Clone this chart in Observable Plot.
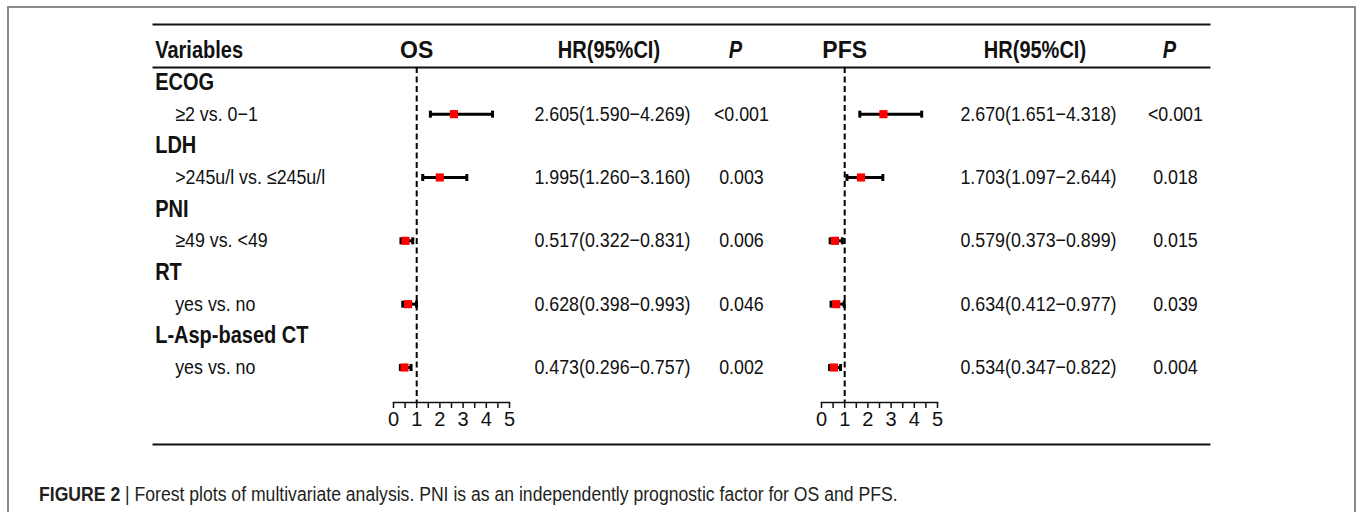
<!DOCTYPE html>
<html><head><meta charset="utf-8">
<script src="https://cdn.jsdelivr.net/npm/d3@7"></script>
<script src="https://cdn.jsdelivr.net/npm/@observablehq/plot@0.6"></script>
<style>
html,body{margin:0;padding:0;background:#fff;}
#wrap{position:relative;width:1357px;height:512px;overflow:hidden;font-family:"Liberation Sans",Arial,sans-serif;}
#border{position:absolute;left:7px;top:6px;width:1349px;height:530px;border:2px solid #8a8a8a;border-bottom:none;box-sizing:border-box;}
.panel{position:absolute;top:0;}
.panel svg{display:block;}
#caption{position:absolute;left:39px;top:481px;font-size:20px;line-height:26px;color:#231f20;white-space:nowrap;transform:scaleX(0.88);transform-origin:0 50%;}
</style></head><body>
<div id="wrap"><div id="border"></div>
<div id="caption"><b>FIGURE 2</b> | Forest plots of multivariate analysis. PNI is as an independently prognostic factor for OS and PFS.</div>
</div>
<script>
// ---- data ----
const variables = ["ECOG", "LDH", "PNI", "RT", "L-Asp-based CT"];
const comparisons = ["≥2 vs. 0−1", ">245u/l vs. ≤245u/l", "≥49 vs. <49", "yes vs. no", "yes vs. no"];
const osHR = [2.605, 1.995, 0.517, 0.628, 0.473];
const osLower = [1.590, 1.260, 0.322, 0.398, 0.296];
const osUpper = [4.269, 3.160, 0.831, 0.993, 0.757];
const osP = ["<0.001", "0.003", "0.006", "0.046", "0.002"];
const pfsHR = [2.670, 1.703, 0.579, 0.634, 0.534];
const pfsLower = [1.651, 1.097, 0.373, 0.412, 0.347];
const pfsUpper = [4.318, 2.644, 0.899, 0.977, 0.822];
const pfsP = ["<0.001", "0.018", "0.015", "0.039", "0.004"];
const headerVariables = "Variables";
const headerOS = "OS";
const headerPFS = "PFS";
const headerHR = "HR(95%CI)";
const headerP = "P";
const axisTicks = [0, 1, 2, 3, 4, 5];
const axisMinorTicks = [0, 0.5, 1, 1.5, 2, 2.5, 3, 3.5, 4, 4.5, 5];
const refHR = 1;

// ---- build tables ----
const rowIds = ["hdr"];
variables.forEach((v, i) => rowIds.push("v" + i, "c" + i));
const catRows = variables.map((v, i) => ({id: "v" + i, label: v}));
const cmpRows = comparisons.map((c, i) => ({id: "c" + i, label: c}));
function estimates(hr, lo, hi, p) {
  return hr.map((h, i) => ({id: "c" + i, hr: h, lo: lo[i], hi: hi[i], p: p[i],
    txt: `${h.toFixed(3)}(${lo[i].toFixed(3)}−${hi[i].toFixed(3)})`}));
}
const osData = estimates(osHR, osLower, osUpper, osP);
const pfsData = estimates(pfsHR, pfsLower, pfsUpper, pfsP);

const H = 450;
const SX = 0.87; // horizontal condensing of table text
const yScale = {type: "point", domain: rowIds, range: [50.3, 367], padding: 0, round: false, axis: null};
const baseStyle = {background: "transparent", fontFamily: "'Liberation Sans', Arial, sans-serif", color: "#111", overflow: "visible"};
const wrap = document.getElementById("wrap");
function place(svg, left, width, condensed, origin) {
  const d = document.createElement("div");
  d.className = "panel";
  d.style.left = left + "px";
  d.style.width = width + "px";
  if (condensed) { d.style.transform = `scaleX(${SX})`; d.style.transformOrigin = origin; }
  d.appendChild(svg);
  wrap.appendChild(d);
}
const cap = {draw(ctx, size) { const r = Math.sqrt(size / Math.PI); ctx.moveTo(0, -r); ctx.lineTo(0, r); }};

// table rules
place(Plot.plot({width: 1056, height: H, marginTop: 24, marginBottom: H - 444, marginLeft: 0, marginRight: 0, style: baseStyle,
  marks: [Plot.frame({anchor: "top", strokeWidth: 2}), Plot.frame({anchor: "bottom", strokeWidth: 2})]}), 153, 1056);
place(Plot.plot({width: 1056, height: H, marginTop: 67, marginBottom: 0, marginLeft: 0, marginRight: 0, style: baseStyle,
  marks: [Plot.frame({anchor: "top", strokeWidth: 2})]}), 153, 1056);

// variables column
place(Plot.plot({width: 300, height: H, margin: 0, y: yScale, style: baseStyle,
  marks: [
    Plot.text([headerVariables], {y: () => "hdr", text: d => d, frameAnchor: "left", textAnchor: "start", dx: 2, fontSize: 23, fontWeight: "bold"}),
    Plot.text(catRows, {y: "id", text: "label", frameAnchor: "left", textAnchor: "start", dx: 2, fontSize: 23, fontWeight: "bold"}),
    Plot.text(cmpRows, {y: "id", text: "label", frameAnchor: "left", textAnchor: "start", dx: 25, fontSize: 20.5})
  ]}), 153, 300, true, "0 0");

function forest(title, data, x0) {
  const mL = 40, mR = 40, w = 116 + mL + mR;
  place(Plot.plot({width: w, height: H, marginLeft: mL, marginRight: mR, marginTop: 67, marginBottom: H - 402,
    x: {domain: [0, 5]}, y: yScale, style: {...baseStyle, fontSize: "20px"},
    marks: [
      Plot.ruleX([refHR], {stroke: "#000", strokeWidth: 2, strokeDasharray: "6,3.5"}),
      Plot.frame({anchor: "bottom", strokeWidth: 1.5}),
      Plot.axisX({ticks: axisMinorTicks, tickSize: 6, tickPadding: 3, fontSize: 20, strokeWidth: 1.5,
        tickFormat: d => axisTicks.includes(d) ? String(d) : "", label: null}),
      Plot.ruleY(data, {y: "id", x1: "lo", x2: "hi", stroke: "#000", strokeWidth: 3}),
      Plot.dot(data, {x: "lo", y: "id", symbol: cap, r: 3.5, stroke: "#000", strokeWidth: 3, fill: "none"}),
      Plot.dot(data, {x: "hi", y: "id", symbol: cap, r: 3.5, stroke: "#000", strokeWidth: 3, fill: "none"}),
      Plot.dot(data, {x: "hr", y: "id", symbol: "square", r: 4.6, fill: "#ff0000", stroke: "none"}),
      Plot.text([title], {x: () => refHR, y: () => "hdr", text: d => d, fontSize: 23, fontWeight: "bold"})
    ]}), x0 - mL, w, false);
}
function textCol(data, field, centerX, width, header, italic) {
  place(Plot.plot({width, height: H, margin: 0, y: yScale, style: baseStyle,
    marks: [
      Plot.text([header], {y: () => "hdr", text: d => d, fontSize: 23, fontWeight: "bold", fontStyle: italic ? "italic" : "normal", dx: italic ? -7 : -4}),
      Plot.text(data, {y: "id", text: field, fontSize: 20.5})
    ]}), centerX - width / 2, width, true, "50% 0");
}

forest(headerOS, osData, 393);
textCol(osData, "txt", 612, 240, headerHR, false);
textCol(osData, "p", 741, 110, headerP, true);
forest(headerPFS, pfsData, 821);
textCol(pfsData, "txt", 1038, 240, headerHR, false);
textCol(pfsData, "p", 1175, 110, headerP, true);
</script>
</body></html>
